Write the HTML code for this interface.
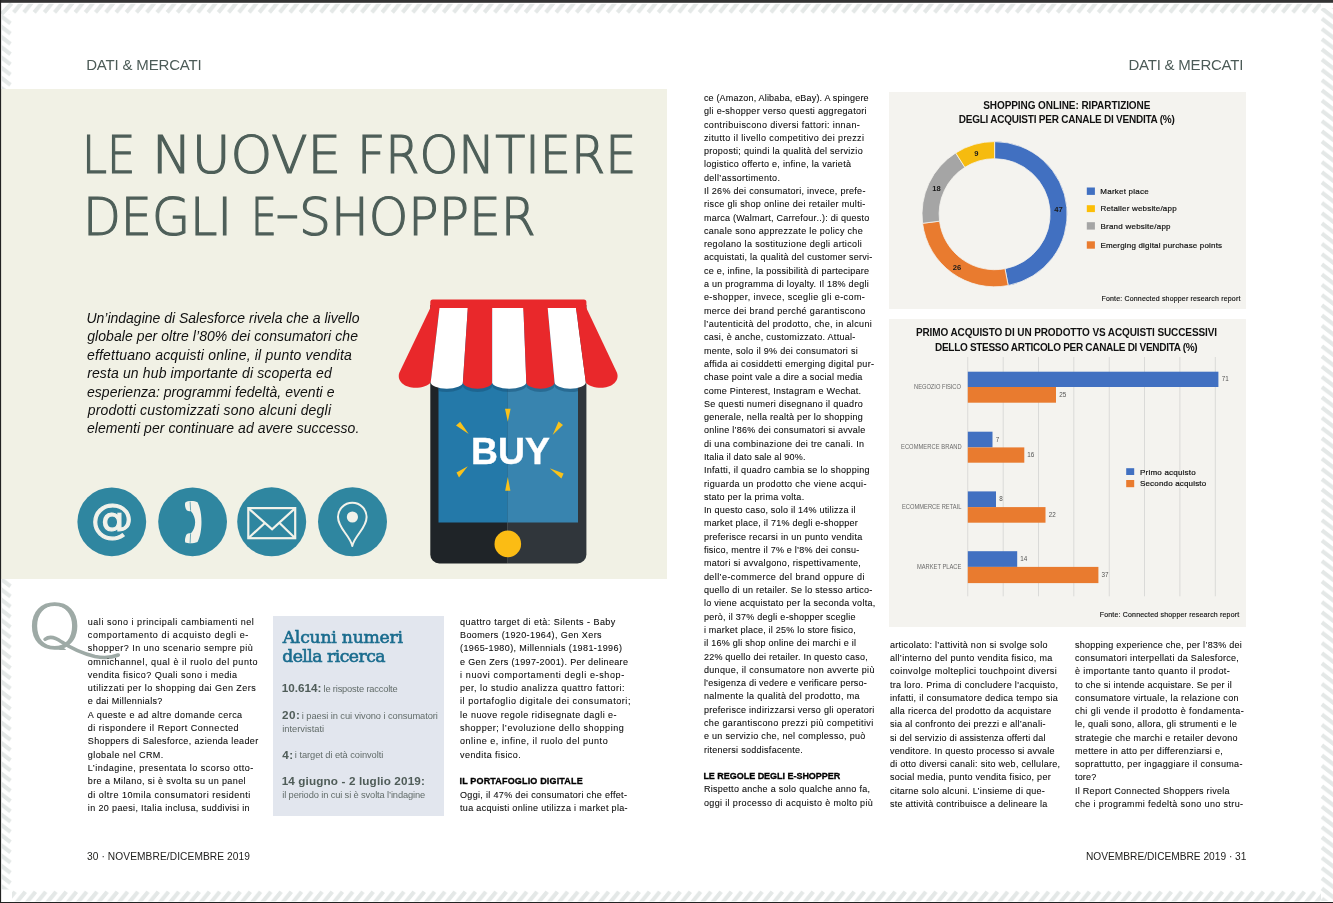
<!DOCTYPE html>
<html lang="it">
<head>
<meta charset="utf-8">
<title>Le nuove frontiere degli e-shopper</title>
<style>
html,body{margin:0;padding:0;}
body{width:1333px;height:903px;position:relative;overflow:hidden;background:#fff;font-family:"Liberation Sans",sans-serif;color:#1c1c1a;}
.abs{position:absolute;}
.t{position:absolute;white-space:pre;transform-origin:0 0;color:#1c1c1a;font-family:"Liberation Sans",sans-serif;}
.t.b{font-size:9px;line-height:14px;-webkit-text-stroke:0.08px #0c0c0c}
.t.r{font-size:9px;line-height:14px;-webkit-text-stroke:0.08px #0c0c0c}
.t.h{font-size:9px;line-height:14px;font-weight:bold;-webkit-text-stroke:0.3px #000}
.t.i{font-size:14px;line-height:20px;font-style:italic}
.t.hdr{font-size:15px;line-height:18px}
.t.ftr{font-size:11.3px;line-height:16px}
.t.ttl{font-family:'DejaVu Sans Light','DejaVu Sans','Liberation Sans',sans-serif;font-weight:200;font-size:51px;line-height:60px;-webkit-text-stroke:1.2px #4e5f59}
.t.bh{font-family:'DejaVu Serif','Liberation Serif',serif;font-size:17.2px;line-height:20px;-webkit-text-stroke:0.6px #1a6c8e}
.t.bb{font-size:11.7px;line-height:14px;font-weight:bold}
.t.bl{font-size:9.3px;line-height:14px}
.t.ct{font-size:10px;line-height:12px;font-weight:bold}
.t.lg{font-size:8px;line-height:10px;-webkit-text-stroke:0.2px #111}
.t.fo{font-size:7px;line-height:10px;-webkit-text-stroke:0.15px #111}
.t.cl{font-size:6.7px;line-height:10px}
.t.vl{font-size:6.3px;line-height:10px}
.t.dn{font-size:7.6px;line-height:10px;font-weight:bold}
.t.buy{font-size:37.4px;line-height:42px;font-weight:bold;-webkit-text-stroke:0.4px #fff}
.t.at{font-family:'DejaVu Sans','Liberation Sans',sans-serif;font-size:41px;line-height:48px;-webkit-text-stroke:1.1px #f2f2ea}
.t.b,.t.r{color:#0c0c0c;}
.t.ttl .w{display:inline-block;transform-origin:0 0;white-space:pre;}
.t.h{color:#000;}
.t.i{color:#111;}
.t.hdr{color:#4c5b57;}
.t.ftr{color:#1d1d1b;}
.t.ttl{color:#4e5f59;}
.t.bh{color:#1a6c8e;}
.t.bb{color:#4f5c58;}
.t.bl{color:#626c69;}
.t.ct{color:#111;}
.t.lg{color:#111;}
.t.fo{color:#111;}
.t.cl{color:#6a6a6a;}
.t.vl{color:#555;}
.t.dn{color:#1a1a1a;}
.t.buy{color:#fff;}
.t.at{color:#f2f2ea;}
.q{position:absolute;transform-origin:0 0;transform:scaleX(1.15);overflow:hidden;height:63px;font-family:"DejaVu Sans Light","DejaVu Sans","Liberation Sans",sans-serif;font-weight:200;font-size:61px;line-height:80px;color:#9eaaa6;-webkit-text-stroke:1.4px #9eaaa6;}
.box{position:absolute;left:273.4px;top:616px;width:170.8px;height:199.6px;background:#e2e6ee;}
</style>
</head>
<body>
<svg class="abs" style="left:0;top:0" width="1333" height="903" viewBox="0 0 1333 903">
<defs>
<pattern id="hz" x="10.7" y="0" width="10.233" height="20" patternUnits="userSpaceOnUse"><path d="M-7.23 12.40L1.93 1.30M3.00 12.40L12.16 1.30M13.23 12.40L22.40 1.30M23.47 12.40L32.63 1.30" stroke="#e4e8e7" stroke-width="4.1" fill="none"/></pattern>
<pattern id="hzb" x="14.7" y="885" width="10.233" height="20" patternUnits="userSpaceOnUse"><path d="M-9.30 18.50L0.36 6.80M0.94 18.50L10.60 6.80M11.17 18.50L20.83 6.80M21.40 18.50L31.06 6.80" stroke="#e4e8e7" stroke-width="4.1" fill="none"/></pattern>
<pattern id="vt" x="0" y="13.9" width="20" height="10.233" patternUnits="userSpaceOnUse"><path d="M-0.60 -9.15L10.50 -0.63M-0.60 1.08L10.50 9.60M-0.60 11.31L10.50 19.83M-0.60 21.55L10.50 30.07" stroke="#e4e8e7" stroke-width="4.1" fill="none"/></pattern>
<pattern id="vtr" x="1315" y="5.4" width="20" height="10.233" patternUnits="userSpaceOnUse"><path d="M6.90 -7.23L20.50 3.18M6.90 3.00L20.50 13.41M6.90 13.23L20.50 23.65M6.90 23.47L20.50 33.88" stroke="#e4e8e7" stroke-width="4.1" fill="none"/></pattern>
</defs>
<rect x="12" y="3.800" width="1309" height="11" fill="url(#hz)"/>
<rect x="12" y="890" width="1309" height="11.400" fill="url(#hzb)"/>
<rect x="1.800" y="14.500" width="11" height="875" fill="url(#vt)"/>
<rect x="1320" y="8" width="13" height="893" fill="url(#vtr)"/>
<path d="M1.500 14L11.500 3.500" stroke="#e4e8e7" stroke-width="4.100" fill="none"/>
<rect x="0" y="89" width="667" height="490" fill="#f1f1e5"/>
<rect x="0" y="0" width="1333" height="2.800" fill="#333"/>
<rect x="0" y="0" width="1.100" height="903" fill="#222"/>
<rect x="0" y="902" width="1333" height="1" fill="#222"/>
</svg>
<svg class="abs" style="left:0;top:0" width="1333" height="903" viewBox="0 0 1333 903">
<!-- icon circles -->
<g fill="#2f86a0">
<circle cx="111.8" cy="521.8" r="34.4"/>
<circle cx="192.6" cy="521.8" r="34.4"/>
<circle cx="271.7" cy="521.8" r="34.5"/>
<circle cx="352.5" cy="521.8" r="34.5"/>
</g>
<!-- handset -->
<path d="M185.300 502.500C188 500.700 194 500.600 197.500 502.300C202.800 512 202.800 532 197.500 541.900C194 543.600 188 543.500 185.300 542.500C184.500 540 185.300 536.500 186.700 534.200C188 533.200 189.500 533.100 190.800 533.600C196.600 527 196.600 517.500 190.800 510.900C189.500 511.400 188 511.200 186.700 510.200C185.300 508 184.500 505 185.300 502.500z" fill="#f2f2ea"/>
<path d="M190.100 501.600L190.600 510.600M190.600 533.800L190.100 542.900" stroke="#2f86a0" stroke-width="0.700" fill="none"/>
<!-- envelope -->
<g fill="none" stroke="#f2f2ea" stroke-width="2.200" stroke-linejoin="miter">
<rect x="248.300" y="508.100" width="46.900" height="30.100"/>
<path d="M248.800 508.600L272.100 529.200L294.700 508.600M248.800 537.700L264.600 523.200M294.700 537.700L279.800 523.200"/>
</g>
<!-- pin -->
<path d="M352.300 546C349.800 535 338 528.500 338 517.100A14.300 14.300 0 0 1 366.600 517.100C366.600 528.500 354.800 535 352.300 546z" fill="none" stroke="#f2f2ea" stroke-width="2" stroke-linejoin="round"/>
<circle cx="352.400" cy="517" r="5.600" fill="#f2f2ea"/>
<!-- phone body -->
<path d="M430.300 305H507.800V563.400H439.300a9 9 0 0 1-9-9z" fill="#1f2428"/>
<path d="M507.800 305H586.400V554.400a9 9 0 0 1-9 9H507.800z" fill="#30363b"/>
<rect x="438.500" y="305" width="69.300" height="217.500" fill="#2479a9"/>
<rect x="507.800" y="305" width="70.200" height="217.500" fill="#3884af"/>
<clipPath id="scr"><rect x="438.500" y="305" width="139.500" height="217.500"/></clipPath>
<g clip-path="url(#scr)" fill="#174f73" opacity="0.45" transform="translate(0,3.500)">
<path d="M430.700 370H462.900V382A16.100 6.500 0 0 1 430.700 382z"/>
<path d="M462.900 370H492.200V382A14.650 6.500 0 0 1 462.900 382z"/>
<path d="M492.200 370H526.300V382A17.050 6.500 0 0 1 492.200 382z"/>
<path d="M526.300 370H554.600V382A14.150 6.500 0 0 1 526.300 382z"/>
<path d="M554.600 370H585.800V382A15.600 6.500 0 0 1 554.600 382z"/>
</g>
<circle cx="507.800" cy="543.900" r="13.300" fill="#fbbc14"/>
<g fill="#f9c21a">
<path d="M505 408.800h5.600l-2.800 13z"/>
<path d="M505.200 490.700h5.200l-2.600-13.700z"/>
<path d="M456 425.500l4.200-3.800l8.500 12.400z"/>
<path d="M558.500 421.500l4.500 3.500l-10.400 10z"/>
<path d="M456.500 472.500l2.500 5l8.800-11.200z"/>
<path d="M561.400 478.500l2.200-5l-13.900-5.200z"/>
</g>
<!-- awning -->
<rect x="430.300" y="299.500" width="156.100" height="12" rx="2.500" fill="#e9282b"/>
<path d="M430.300 308H439.500L430.700 382.200C428.500 386 421 388 413.500 387.700C404.500 387.300 396.500 381 399.300 372.800z" fill="#e9282b"/>
<path d="M439.500 308H467.800L462.900 382.200A16.100 6.500 0 0 1 430.700 382.200z" fill="#fff"/>
<path d="M467.800 308H492.200L492.200 382.200A14.650 6.500 0 0 1 462.900 382.200z" fill="#e9282b"/>
<path d="M492.200 308H523.400L526.300 382.200A17.050 6.500 0 0 1 492.200 382.200z" fill="#fff"/>
<path d="M523.400 308H547.700L554.600 382.200A14.150 6.500 0 0 1 526.300 382.200z" fill="#e9282b"/>
<path d="M547.700 308H576L585.800 382.200A15.600 6.500 0 0 1 554.600 382.200z" fill="#fff"/>
<path d="M576 308H586.400L617 372.800C619.800 381 611.800 387.300 602.800 387.700C595.300 388 587.800 386 585.800 382.200z" fill="#e9282b"/>
</svg>
<div class="t buy" style="left:470.67px;top:430px;transform:scaleX(0.998)">BUY</div>
<div class="t at" style="left:90.79px;top:495px;transform:scaleX(1.029)">@</div>

<div class="hd">
<div class="t hdr" style="left:86.15px;top:56px;letter-spacing:-0.171px">DATI &amp; MERCATI</div>
<div class="t hdr" style="left:1128.45px;top:56px;letter-spacing:-0.217px">DATI &amp; MERCATI</div>
</div>
<div class="title1">
<div class="t ttl" style="left:81.80px;top:126px"><span class="w" style="transform:scaleX(0.881);width:70.00px">LE </span><span class="w" style="transform:scaleX(1.040);width:205.18px">NUOVE </span><span class="w" style="transform:scaleX(0.966)">FRONTIERE</span></div>
</div>
<div class="title2">
<div class="t ttl" style="left:82.50px;top:188px"><span class="w" style="transform:scaleX(0.964);width:168.10px">DEGLI </span><span class="w" style="transform:scaleX(0.803);width:24.45px">E</span><span class="w" style="transform:scaleX(1.343);width:23.50px;position:relative;top:-4px">-</span><span class="w" style="transform:scaleX(0.986)">SHOPPER</span></div>
</div>
<div class="intro">
<div class="t i" style="left:86.41px;top:308px;letter-spacing:-0.003px">Un’indagine di Salesforce rivela che a livello</div>
<div class="t i" style="left:87.14px;top:326px;letter-spacing:0.075px">globale per oltre l’80% dei consumatori che</div>
<div class="t i" style="left:86.97px;top:345px;letter-spacing:0.185px">effettuano acquisti online, il punto vendita</div>
<div class="t i" style="left:87.16px;top:363px;letter-spacing:0.131px">resta un hub importante di scoperta ed</div>
<div class="t i" style="left:86.97px;top:382px;letter-spacing:0.042px">esperienza: programmi fedeltà, eventi e</div>
<div class="t i" style="left:87.75px;top:400px;letter-spacing:0.196px">prodotti customizzati sono alcuni degli</div>
<div class="t i" style="left:86.97px;top:418px;letter-spacing:0.037px">elementi per continuare ad avere successo.</div>
</div>
<div class="foot">
<div class="t ftr" style="left:86.87px;top:848px;letter-spacing:0.107px;transform:scaleX(0.900)">30 · NOVEMBRE/DICEMBRE 2019</div>
<div class="t ftr" style="left:1085.80px;top:848px;letter-spacing:-0.003px;transform:scaleX(0.900)">NOVEMBRE/DICEMBRE 2019 · 31</div>
</div>

<div class="box"></div>
<div class="boxtext">
<div class="t bh" style="left:282.66px;top:627px;letter-spacing:-0.214px">Alcuni numeri</div>
<div class="t bh" style="left:282.16px;top:646px;letter-spacing:-0.508px">della ricerca</div>
<div class="t bb" style="left:281.66px;top:681px;letter-spacing:0.005px">10.614:</div>
<div class="t bl" style="left:323.56px;top:682px;letter-spacing:-0.177px">le risposte raccolte</div>
<div class="t bb" style="left:281.98px;top:708px;letter-spacing:0.474px">20:</div>
<div class="t bl" style="left:301.86px;top:709px;letter-spacing:-0.072px">i paesi in cui vivono i consumatori</div>
<div class="t bl" style="left:282.26px;top:722px;letter-spacing:0.003px">intervistati</div>
<div class="t bb" style="left:282.21px;top:748px;letter-spacing:0.429px">4:</div>
<div class="t bl" style="left:294.86px;top:748px;letter-spacing:-0.061px">i target di età coinvolti</div>
<div class="t bb" style="left:281.66px;top:774px;letter-spacing:0.141px">14 giugno - 2 luglio 2019:</div>
<div class="t bl" style="left:282.26px;top:788px;letter-spacing:-0.124px">il periodo in cui si è svolta l’indagine</div>
</div>

<svg class="abs" style="left:0;top:0" width="1333" height="903" viewBox="0 0 1333 903">
<rect x="889" y="92" width="357" height="217" fill="#f4f3ef"/>
<rect x="889" y="319" width="357" height="308" fill="#f4f3ef"/>
<path d="M994.60 141.60A72.6 72.6 0 0 1 1008.20 285.51L1005.00 268.72A55.5 55.5 0 0 0 994.60 158.70z" fill="#4170c1" stroke="#f4f3ef" stroke-width="0.8"/>
<path d="M1008.20 285.51A72.6 72.6 0 0 1 922.57 223.30L939.54 221.16A55.5 55.5 0 0 0 1005.00 268.72z" fill="#e97b2f" stroke="#f4f3ef" stroke-width="0.8"/>
<path d="M922.57 223.30A72.6 72.6 0 0 1 955.70 152.90L964.86 167.34A55.5 55.5 0 0 0 939.54 221.16z" fill="#a5a5a5" stroke="#f4f3ef" stroke-width="0.8"/>
<path d="M955.70 152.90A72.6 72.6 0 0 1 994.60 141.60L994.60 158.70A55.5 55.5 0 0 0 964.86 167.34z" fill="#f6bb0f" stroke="#f4f3ef" stroke-width="0.8"/>
<rect x="1086.800" y="187.5" width="8.100" height="7.4" fill="#4170c1"/>
<rect x="1086.800" y="205.2" width="8.100" height="6.9" fill="#fcbe06"/>
<rect x="1086.800" y="222.2" width="8.100" height="7.4" fill="#a5a5a5"/>
<rect x="1086.800" y="241.3" width="8.100" height="7.4" fill="#e97b2f"/>
<rect x="967.40" y="357" width="0.8" height="239.300" fill="#d4d4d2"/>
<rect x="1002.75" y="357" width="0.8" height="239.300" fill="#d4d4d2"/>
<rect x="1038.10" y="357" width="0.8" height="239.300" fill="#d4d4d2"/>
<rect x="1073.45" y="357" width="0.8" height="239.300" fill="#d4d4d2"/>
<rect x="1108.80" y="357" width="0.8" height="239.300" fill="#d4d4d2"/>
<rect x="1144.15" y="357" width="0.8" height="239.300" fill="#d4d4d2"/>
<rect x="1179.50" y="357" width="0.8" height="239.300" fill="#d4d4d2"/>
<rect x="1214.85" y="357" width="0.8" height="239.300" fill="#d4d4d2"/>
<rect x="967.8" y="371.7" width="250.6" height="15.3" fill="#4170c1"/>
<rect x="967.8" y="387.0" width="88.2" height="15.7" fill="#e97b2f"/>
<rect x="967.8" y="431.7" width="24.7" height="15.7" fill="#4170c1"/>
<rect x="967.8" y="447.4" width="56.5" height="15.3" fill="#e97b2f"/>
<rect x="967.8" y="491.4" width="28.2" height="15.7" fill="#4170c1"/>
<rect x="967.8" y="507.1" width="77.7" height="15.6" fill="#e97b2f"/>
<rect x="967.8" y="551.2" width="49.4" height="15.7" fill="#4170c1"/>
<rect x="967.8" y="566.9" width="130.6" height="16.2" fill="#e97b2f"/>
<rect x="1126.200" y="468.2" width="8" height="6.8" fill="#4170c1"/>
<rect x="1126.200" y="480.0" width="8" height="7.2" fill="#e97b2f"/>
</svg>
<div class="charttext">
<div class="t ct" style="left:983.23px;top:100px;letter-spacing:-0.075px">SHOPPING ONLINE: RIPARTIZIONE</div>
<div class="t ct" style="left:958.73px;top:114px;letter-spacing:-0.232px">DEGLI ACQUISTI PER CANALE DI VENDITA (%)</div>
<div class="t lg" style="left:1100.34px;top:187px;letter-spacing:0.224px">Market place</div>
<div class="t lg" style="left:1100.42px;top:204px;letter-spacing:0.194px">Retailer website/app</div>
<div class="t lg" style="left:1100.41px;top:222px;letter-spacing:0.243px">Brand website/app</div>
<div class="t lg" style="left:1100.39px;top:241px;letter-spacing:0.183px">Emerging digital purchase points</div>
<div class="t dn" style="left:1054.30px;top:205px">47</div>
<div class="t dn" style="left:952.81px;top:263px">26</div>
<div class="t dn" style="left:932.25px;top:184px">18</div>
<div class="t dn" style="left:974.17px;top:149px">9</div>
<div class="t fo" style="left:1101.53px;top:294px;letter-spacing:0.167px">Fonte: Connected shopper research report</div>
<div class="t ct" style="left:915.93px;top:327px;letter-spacing:-0.11px">PRIMO ACQUISTO DI UN PRODOTTO VS ACQUISTI SUCCESSIVI</div>
<div class="t ct" style="left:935.03px;top:342px;letter-spacing:-0.296px">DELLO STESSO ARTICOLO PER CANALE DI VENDITA (%)</div>
<div class="t cl" style="left:914.32px;top:382px;letter-spacing:-0.031px;transform:scaleX(0.860)">NEGOZIO FISICO</div>
<div class="t vl" style="left:1221.70px;top:374px">71</div>
<div class="t vl" style="left:1059.31px;top:390px">25</div>
<div class="t cl" style="left:900.61px;top:442px;letter-spacing:0.075px;transform:scaleX(0.860)">ECOMMERCE BRAND</div>
<div class="t vl" style="left:995.76px;top:435px">7</div>
<div class="t vl" style="left:1027.26px;top:450px">16</div>
<div class="t cl" style="left:902.01px;top:502px;letter-spacing:0.004px;transform:scaleX(0.860)">ECOMMERCE RETAIL</div>
<div class="t vl" style="left:999.30px;top:494px">8</div>
<div class="t vl" style="left:1048.67px;top:510px">22</div>
<div class="t cl" style="left:917.38px;top:562px;letter-spacing:-0.004px;transform:scaleX(0.860)">MARKET PLACE</div>
<div class="t vl" style="left:1020.21px;top:554px">14</div>
<div class="t vl" style="left:1101.45px;top:570px">37</div>
<div class="t lg" style="left:1140.02px;top:468px;letter-spacing:0.212px">Primo acquisto</div>
<div class="t lg" style="left:1139.98px;top:479px;letter-spacing:0.176px">Secondo acquisto</div>
<div class="t fo" style="left:1099.73px;top:610px;letter-spacing:0.185px">Fonte: Connected shopper research report</div>
</div>
<div class="q" style="left:27.200px;top:587px">Q</div>
<svg class="abs" style="left:0;top:0" width="1333" height="903" viewBox="0 0 1333 903"><path d="M45 639.300C50 635.500 55.500 637.500 61.500 641.800C73 649.500 84 654 95 656.500C103.500 658.200 112 657.500 118.300 655" fill="none" stroke="#9eaaa6" stroke-width="3.500" stroke-linecap="round"/></svg>
<div class="col">
<div class="t b" style="left:87.80px;top:615px;letter-spacing:0.524px">uali sono i principali cambiamenti nel</div>
<div class="t b" style="left:87.80px;top:628px;letter-spacing:0.62px">comportamento di acquisto degli e-</div>
<div class="t b" style="left:87.80px;top:641px;letter-spacing:0.482px">shopper? In uno scenario sempre più</div>
<div class="t b" style="left:87.80px;top:655px;letter-spacing:0.558px">omnichannel, qual è il ruolo del punto</div>
<div class="t b" style="left:87.80px;top:668px;letter-spacing:0.461px">vendita fisico? Quali sono i media</div>
<div class="t b" style="left:87.80px;top:681px;letter-spacing:0.457px">utilizzati per lo shopping dai Gen Zers</div>
<div class="t b" style="left:87.80px;top:694px;letter-spacing:0.32px">e dai Millennials?</div>
<div class="t b" style="left:87.80px;top:708px;letter-spacing:0.46px">A queste e ad altre domande cerca</div>
<div class="t b" style="left:87.80px;top:721px;letter-spacing:0.518px">di rispondere il Report Connected</div>
<div class="t b" style="left:87.80px;top:734px;letter-spacing:0.358px">Shoppers di Salesforce, azienda leader</div>
<div class="t b" style="left:87.80px;top:748px;letter-spacing:0.43px">globale nel CRM.</div>
<div class="t b" style="left:87.80px;top:761px;letter-spacing:0.494px">L’indagine, presentata lo scorso otto-</div>
<div class="t b" style="left:87.80px;top:774px;letter-spacing:0.394px">bre a Milano, si è svolta su un panel</div>
<div class="t b" style="left:87.80px;top:788px;letter-spacing:0.511px">di oltre 10mila consumatori residenti</div>
<div class="t b" style="left:87.80px;top:801px;letter-spacing:0.368px">in 20 paesi, Italia inclusa, suddivisi in</div>
</div>
<div class="col">
<div class="t b" style="left:460.00px;top:615px;letter-spacing:0.465px">quattro target di età: Silents - Baby</div>
<div class="t b" style="left:460.00px;top:628px;letter-spacing:0.391px">Boomers (1920-1964), Gen Xers</div>
<div class="t b" style="left:460.00px;top:641px;letter-spacing:0.409px">(1965-1980), Millennials (1981-1996)</div>
<div class="t b" style="left:460.00px;top:655px;letter-spacing:0.358px">e Gen Zers (1997-2001). Per delineare</div>
<div class="t b" style="left:460.00px;top:668px;letter-spacing:0.638px">i nuovi comportamenti degli e-shop-</div>
<div class="t b" style="left:460.00px;top:681px;letter-spacing:0.51px">per, lo studio analizza quattro fattori:</div>
<div class="t b" style="left:460.00px;top:694px;letter-spacing:0.573px">il portafoglio digitale dei consumatori;</div>
<div class="t b" style="left:460.00px;top:708px;letter-spacing:0.471px">le nuove regole ridisegnate dagli e-</div>
<div class="t b" style="left:460.00px;top:721px;letter-spacing:0.532px">shopper; l’evoluzione dello shopping</div>
<div class="t b" style="left:460.00px;top:734px;letter-spacing:0.53px">online e, infine, il ruolo del punto</div>
<div class="t b" style="left:460.00px;top:748px;letter-spacing:0.443px">vendita fisico.</div>
<div class="t h" style="left:459.54px;top:774px;letter-spacing:0.166px">IL PORTAFOGLIO DIGITALE</div>
<div class="t b" style="left:460.00px;top:788px;letter-spacing:0.329px">Oggi, il 47% dei consumatori che effet-</div>
<div class="t b" style="left:460.00px;top:801px;letter-spacing:0.329px">tua acquisti online utilizza i market pla-</div>
</div>
<div class="col">
<div class="t r" style="left:703.90px;top:91px;letter-spacing:0.178px">ce (Amazon, Alibaba, eBay). A spingere</div>
<div class="t r" style="left:703.90px;top:104px;letter-spacing:0.314px">gli e-shopper verso questi aggregatori</div>
<div class="t r" style="left:703.90px;top:118px;letter-spacing:0.387px">contribuiscono diversi fattori: innan-</div>
<div class="t r" style="left:703.90px;top:131px;letter-spacing:0.388px">zitutto il livello competitivo dei prezzi</div>
<div class="t r" style="left:703.90px;top:144px;letter-spacing:0.299px">proposti; quindi la qualità del servizio</div>
<div class="t r" style="left:703.90px;top:157px;letter-spacing:0.293px">logistico offerto e, infine, la varietà</div>
<div class="t r" style="left:703.90px;top:171px;letter-spacing:0.356px">dell’assortimento.</div>
<div class="t r" style="left:703.90px;top:184px;letter-spacing:0.295px">Il 26% dei consumatori, invece, prefe-</div>
<div class="t r" style="left:703.90px;top:197px;letter-spacing:0.334px">risce gli shop online dei retailer multi-</div>
<div class="t r" style="left:703.90px;top:211px;letter-spacing:0.252px">marca (Walmart, Carrefour..): di questo</div>
<div class="t r" style="left:703.90px;top:224px;letter-spacing:0.32px">canale sono apprezzate le policy che</div>
<div class="t r" style="left:703.90px;top:237px;letter-spacing:0.35px">regolano la sostituzione degli articoli</div>
<div class="t r" style="left:703.90px;top:250px;letter-spacing:0.266px">acquistati, la qualità del customer servi-</div>
<div class="t r" style="left:703.90px;top:264px;letter-spacing:0.248px">ce e, infine, la possibilità di partecipare</div>
<div class="t r" style="left:703.90px;top:277px;letter-spacing:0.274px">a un programma di loyalty. Il 18% degli</div>
<div class="t r" style="left:703.90px;top:290px;letter-spacing:0.413px">e-shopper, invece, sceglie gli e-com-</div>
<div class="t r" style="left:703.90px;top:304px;letter-spacing:0.364px">merce dei brand perché garantiscono</div>
<div class="t r" style="left:703.90px;top:317px;letter-spacing:0.373px">l’autenticità del prodotto, che, in alcuni</div>
<div class="t r" style="left:703.90px;top:330px;letter-spacing:0.296px">casi, è anche, customizzato. Attual-</div>
<div class="t r" style="left:703.90px;top:344px;letter-spacing:0.294px">mente, solo il 9% dei consumatori si</div>
<div class="t r" style="left:703.90px;top:357px;letter-spacing:0.334px">affida ai cosiddetti emerging digital pur-</div>
<div class="t r" style="left:703.90px;top:370px;letter-spacing:0.227px">chase point vale a dire a social media</div>
<div class="t r" style="left:703.90px;top:384px;letter-spacing:0.272px">come Pinterest, Instagram e Wechat.</div>
<div class="t r" style="left:703.90px;top:397px;letter-spacing:0.291px">Se questi numeri disegnano il quadro</div>
<div class="t r" style="left:703.90px;top:410px;letter-spacing:0.29px">generale, nella realtà per lo shopping</div>
<div class="t r" style="left:703.90px;top:423px;letter-spacing:0.251px">online l’86% dei consumatori si avvale</div>
<div class="t r" style="left:703.90px;top:437px;letter-spacing:0.311px">di una combinazione dei tre canali. In</div>
<div class="t r" style="left:703.90px;top:450px;letter-spacing:0.171px">Italia il dato sale al 90%.</div>
<div class="t r" style="left:703.90px;top:463px;letter-spacing:0.31px">Infatti, il quadro cambia se lo shopping</div>
<div class="t r" style="left:703.90px;top:477px;letter-spacing:0.374px">riguarda un prodotto che viene acqui-</div>
<div class="t r" style="left:703.90px;top:490px;letter-spacing:0.279px">stato per la prima volta.</div>
<div class="t r" style="left:703.90px;top:503px;letter-spacing:0.213px">In questo caso, solo il 14% utilizza il</div>
<div class="t r" style="left:703.90px;top:516px;letter-spacing:0.238px">market place, il 71% degli e-shopper</div>
<div class="t r" style="left:703.90px;top:530px;letter-spacing:0.29px">preferisce recarsi in un punto vendita</div>
<div class="t r" style="left:703.90px;top:543px;letter-spacing:0.235px">fisico, mentre il 7% e l’8% dei consu-</div>
<div class="t r" style="left:703.90px;top:556px;letter-spacing:0.301px">matori si avvalgono, rispettivamente,</div>
<div class="t r" style="left:703.90px;top:570px;letter-spacing:0.424px">dell’e-commerce del brand oppure di</div>
<div class="t r" style="left:703.90px;top:583px;letter-spacing:0.271px">quello di un retailer. Se lo stesso artico-</div>
<div class="t r" style="left:703.90px;top:596px;letter-spacing:0.281px">lo viene acquistato per la seconda volta,</div>
<div class="t r" style="left:703.90px;top:610px;letter-spacing:0.26px">però, il 37% degli e-shopper sceglie</div>
<div class="t r" style="left:703.90px;top:623px;letter-spacing:0.23px">i market place, il 25% lo store fisico,</div>
<div class="t r" style="left:703.90px;top:636px;letter-spacing:0.257px">il 16% gli shop online dei marchi e il</div>
<div class="t r" style="left:703.90px;top:650px;letter-spacing:0.238px">22% quello dei retailer. In questo caso,</div>
<div class="t r" style="left:703.90px;top:663px;letter-spacing:0.349px">dunque, il consumatore non avverte più</div>
<div class="t r" style="left:703.90px;top:676px;letter-spacing:0.227px">l’esigenza di vedere e verificare perso-</div>
<div class="t r" style="left:703.90px;top:689px;letter-spacing:0.358px">nalmente la qualità del prodotto, ma</div>
<div class="t r" style="left:703.90px;top:703px;letter-spacing:0.283px">preferisce indirizzarsi verso gli operatori</div>
<div class="t r" style="left:703.90px;top:716px;letter-spacing:0.389px">che garantiscono prezzi più competitivi</div>
<div class="t r" style="left:703.90px;top:729px;letter-spacing:0.316px">e un servizio che, nel complesso, può</div>
<div class="t r" style="left:703.90px;top:743px;letter-spacing:0.278px">ritenersi soddisfacente.</div>
<div class="t h" style="left:703.40px;top:769px;letter-spacing:-0.027px">LE REGOLE DEGLI E-SHOPPER</div>
<div class="t r" style="left:703.90px;top:782px;letter-spacing:0.284px">Rispetto anche a solo qualche anno fa,</div>
<div class="t r" style="left:703.90px;top:796px;letter-spacing:0.369px">oggi il processo di acquisto è molto più</div>
</div>
<div class="col">
<div class="t r" style="left:889.90px;top:638px;letter-spacing:0.3px">articolato: l’attività non si svolge solo</div>
<div class="t r" style="left:889.90px;top:651px;letter-spacing:0.316px">all’interno del punto vendita fisico, ma</div>
<div class="t r" style="left:889.90px;top:664px;letter-spacing:0.429px">coinvolge molteplici touchpoint diversi</div>
<div class="t r" style="left:889.90px;top:678px;letter-spacing:0.33px">tra loro. Prima di concludere l'acquisto,</div>
<div class="t r" style="left:889.90px;top:691px;letter-spacing:0.316px">infatti, il consumatore dedica tempo sia</div>
<div class="t r" style="left:889.90px;top:704px;letter-spacing:0.3px">alla ricerca del prodotto da acquistare</div>
<div class="t r" style="left:889.90px;top:717px;letter-spacing:0.268px">sia al confronto dei prezzi e all’anali-</div>
<div class="t r" style="left:889.90px;top:731px;letter-spacing:0.191px">si del servizio di assistenza offerti dal</div>
<div class="t r" style="left:889.90px;top:744px;letter-spacing:0.239px">venditore. In questo processo si avvale</div>
<div class="t r" style="left:889.90px;top:757px;letter-spacing:0.28px">di otto diversi canali: sito web, cellulare,</div>
<div class="t r" style="left:889.90px;top:770px;letter-spacing:0.282px">social media, punto vendita fisico, per</div>
<div class="t r" style="left:889.90px;top:784px;letter-spacing:0.279px">citarne solo alcuni. L’insieme di que-</div>
<div class="t r" style="left:889.90px;top:797px;letter-spacing:0.25px">ste attività contribuisce a delineare la</div>
</div>
<div class="col">
<div class="t r" style="left:1075.00px;top:638px;letter-spacing:0.26px">shopping experience che, per l’83% dei</div>
<div class="t r" style="left:1075.00px;top:651px;letter-spacing:0.297px">consumatori interpellati da Salesforce,</div>
<div class="t r" style="left:1075.00px;top:664px;letter-spacing:0.419px">è importante tanto quanto il prodot-</div>
<div class="t r" style="left:1075.00px;top:678px;letter-spacing:0.242px">to che si intende acquistare. Se per il</div>
<div class="t r" style="left:1075.00px;top:691px;letter-spacing:0.322px">consumatore virtuale, la relazione con</div>
<div class="t r" style="left:1075.00px;top:704px;letter-spacing:0.426px">chi gli vende il prodotto è fondamenta-</div>
<div class="t r" style="left:1075.00px;top:717px;letter-spacing:0.271px">le, quali sono, allora, gli strumenti e le</div>
<div class="t r" style="left:1075.00px;top:731px;letter-spacing:0.324px">strategie che marchi e retailer devono</div>
<div class="t r" style="left:1075.00px;top:744px;letter-spacing:0.314px">mettere in atto per differenziarsi e,</div>
<div class="t r" style="left:1075.00px;top:757px;letter-spacing:0.366px">soprattutto, per ingaggiare il consuma-</div>
<div class="t r" style="left:1075.00px;top:770px;letter-spacing:0.165px">tore?</div>
<div class="t r" style="left:1075.00px;top:784px;letter-spacing:0.277px">Il Report Connected Shoppers rivela</div>
<div class="t r" style="left:1075.00px;top:797px;letter-spacing:0.378px">che i programmi fedeltà sono uno stru-</div>
</div>

</body>
</html>
